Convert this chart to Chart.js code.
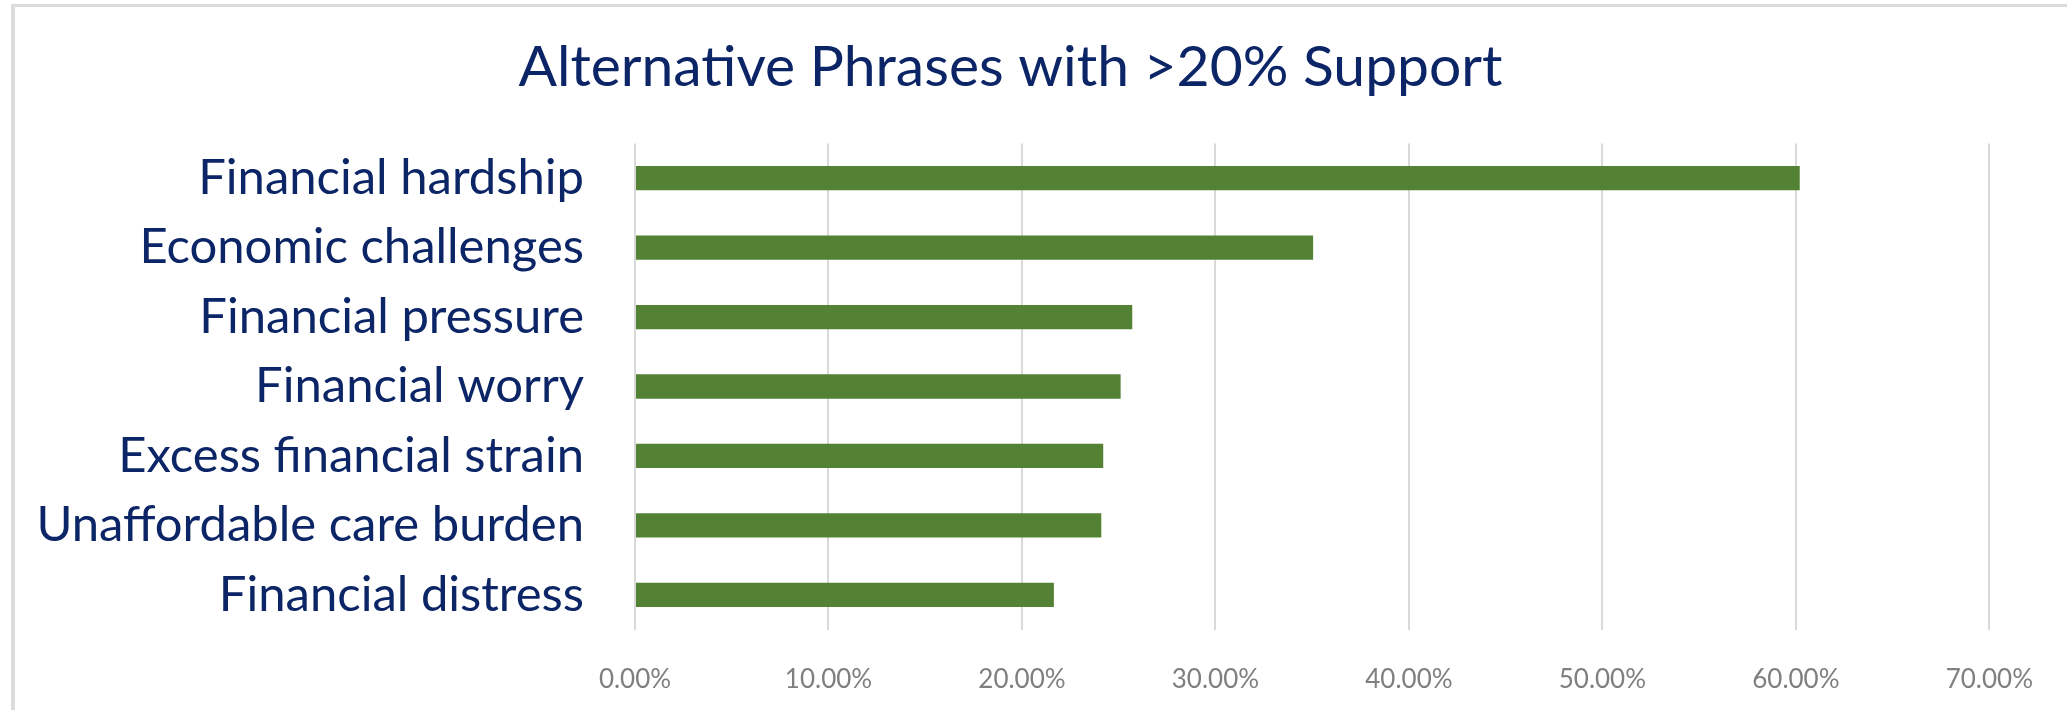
<!DOCTYPE html>
<html>
<head>
<meta charset="utf-8">
<script src="https://cdn.jsdelivr.net/npm/chart.js@4.4.1/dist/chart.umd.min.js"></script>
<style>
  html, body { margin: 0; padding: 0; background: #fff; }
  #frame { position: absolute; left: 11px; top: 4px; right: 0; bottom: 0;
           border-top: 3px solid #dcdcdc; border-left: 4px solid #dcdcdc; }
  #wrap { position: absolute; left: 0; top: 0; width: 2067px; height: 710px; }
</style>
</head>
<body>
<div id="frame"></div>
<div id="wrap"><canvas id="chart"></canvas></div>
<script>
  const phrases = ['Financial hardship', 'Economic challenges', 'Financial pressure', 'Financial worry',
                   'Excess financial strain', 'Unaffordable care burden', 'Financial distress'];
  const support = [60.2, 35.05, 25.7, 25.1, 24.2, 24.1, 21.65];
  const xTicks  = [0, 10, 20, 30, 40, 50, 60, 70];

  const navy = '#0b2566';
  const FONT = 'Lato, "Open Sans", sans-serif';

  new Chart(document.getElementById('chart').getContext('2d'), {
    type: 'bar',
    data: {
      labels: phrases,
      datasets: [{ data: support, backgroundColor: '#548235', borderWidth: 0,
                   categoryPercentage: 1, barPercentage: 0.35 }]
    },
    options: {
      indexAxis: 'y',
      responsive: true,
      maintainAspectRatio: false,
      animation: false,
      layout: { padding: { left: 28, right: 74, top: 0, bottom: 0 } },
      plugins: {
        legend: { display: false },
        tooltip: { enabled: false },
        title: {
          display: true,
          text: 'Alternative Phrases with >20% Support',
          color: navy,
          font: { family: FONT, size: 57, weight: 'normal' },
          padding: { top: 33, bottom: 42 }
        }
      },
      scales: {
        x: {
          min: 0, max: 70,
          afterBuildTicks: (s) => { s.ticks = xTicks.map(v => ({ value: v })); },
          afterFit: (s) => { s.height = 69.5; },
          border: { display: false },
          grid: { color: '#d9d9d9', lineWidth: 2, drawTicks: false },
          ticks: { color: '#7f7f7f', padding: 34, font: { family: FONT, size: 26 },
                   callback: (v) => Number(v).toFixed(2) + '%' }
        },
        y: {
          afterFit: (s) => { s.width = 607; },
          border: { display: false },
          grid: { display: false, drawTicks: false },
          ticks: { color: navy, padding: 51, font: { family: FONT, size: 49 } }
        }
      }
    }
  });
</script>
</body>
</html>
